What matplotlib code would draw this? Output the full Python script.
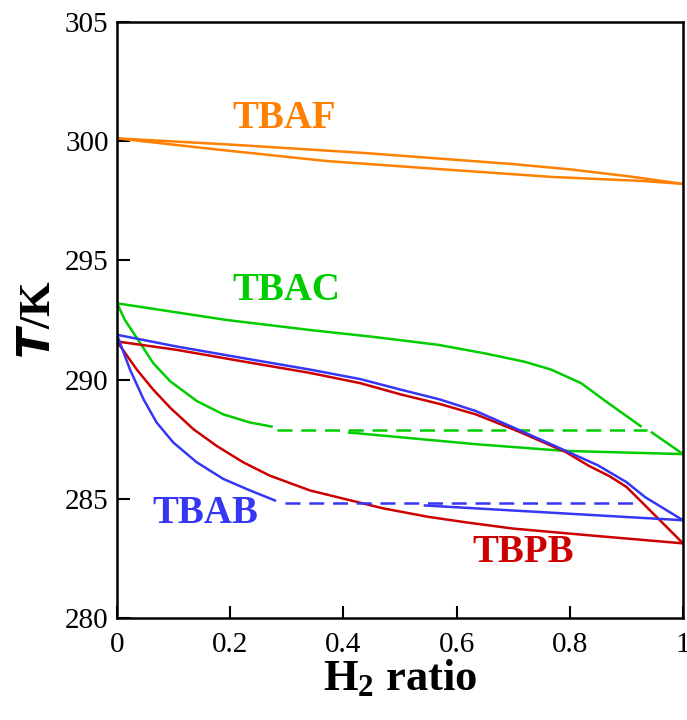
import matplotlib
matplotlib.use("Agg")
import matplotlib.pyplot as plt

# TBAF (orange)
tbaf_up_x = [0, 0.2, 0.435, 0.70, 0.80, 0.90, 1.0]
tbaf_up_t = [300.12, 299.86, 299.51, 299.04, 298.82, 298.54, 298.21]
tbaf_lo_x = [0, 0.17, 0.37, 0.57, 0.77, 0.93, 1.0]
tbaf_lo_t = [300.12, 299.67, 299.17, 298.83, 298.5, 298.33, 298.21]

# TBAC (green)
tbac_up_x = [0, 0.194, 0.341, 0.45, 0.567, 0.65, 0.72, 0.767, 0.82, 0.867, 0.925]
tbac_up_t = [293.2, 292.5, 292.08, 291.8, 291.46, 291.1, 290.75, 290.42, 289.85, 289.03, 288.05]
tbac_tail_x = [0.945, 1.0]
tbac_tail_t = [287.78, 286.875]
tbac_lo_x = [0, 0.014, 0.041, 0.064, 0.094, 0.141, 0.188, 0.235, 0.273]
tbac_lo_t = [293.2, 292.5, 291.53, 290.69, 289.93, 289.1, 288.54, 288.2, 288.03]
tbac_lr_x = [0.41, 0.634, 0.79, 1.0]
tbac_lr_t = [287.78, 287.29, 287.01, 286.875]
tbac_dash_x = [0.282, 0.936]
tbac_dash_t = [287.88, 287.88]

# TBAB (blue)
tbab_up_x = [0, 0.105, 0.223, 0.341, 0.43, 0.501, 0.57, 0.634, 0.707, 0.793, 0.85, 0.9, 0.933, 1.0]
tbab_up_t = [291.88, 291.39, 290.9, 290.42, 290.02, 289.58, 289.17, 288.68, 287.92, 287.01, 286.4, 285.7, 285.07, 284.1]
tbab_lo_x = [0, 0.023, 0.047, 0.070, 0.0995, 0.141, 0.188, 0.235, 0.279]
tbab_lo_t = [291.88, 290.42, 289.17, 288.2, 287.36, 286.53, 285.83, 285.35, 284.93]
tbab_lr_x = [0.544, 1.0]
tbab_lr_t = [284.72, 284.1]
tbab_dash_x = [0.297, 0.926]
tbab_dash_t = [284.83, 284.83]

# TBPB (red)
tbpb_up_x = [0, 0.105, 0.223, 0.341, 0.43, 0.501, 0.57, 0.634, 0.707, 0.793, 0.833, 0.87, 0.9, 0.933, 1.0]
tbpb_up_t = [291.6, 291.25, 290.76, 290.28, 289.85, 289.38, 288.98, 288.54, 287.85, 286.96, 286.39, 285.95, 285.5, 284.72, 283.13]
tbpb_lo_x = [0, 0.035, 0.064, 0.094, 0.135, 0.176, 0.223, 0.270, 0.341, 0.401, 0.47, 0.548, 0.62, 0.70, 0.833, 1.0]
tbpb_lo_t = [291.6, 290.42, 289.58, 288.82, 287.92, 287.22, 286.53, 285.97, 285.35, 285.0, 284.6, 284.25, 284.0, 283.75, 283.47, 283.13]

c_orange = "#FF8000"
c_green = "#00CC00"
c_blue = "#3636F5"
c_red = "#CC0000"

plt.rcParams["font.family"] = ["Liberation Serif", "DejaVu Serif"]
plt.rcParams["mathtext.fontset"] = "custom"
plt.rcParams["mathtext.rm"] = "Liberation Serif"
plt.rcParams["mathtext.it"] = "Liberation Serif:italic"
plt.rcParams["mathtext.bf"] = "Liberation Serif:bold"

fig = plt.figure(figsize=(6.87, 7.2), dpi=100)
ax = fig.add_axes([0.1703, 0.1417, 0.8239, 0.8277])

lw = 1.8
ax.plot(tbaf_up_x, tbaf_up_t, color=c_orange, lw=lw)
ax.plot(tbaf_lo_x, tbaf_lo_t, color=c_orange, lw=lw)

ax.plot(tbac_up_x, tbac_up_t, color=c_green, lw=lw)
ax.plot(tbac_tail_x, tbac_tail_t, color=c_green, lw=lw)
ax.plot(tbac_lo_x, tbac_lo_t, color=c_green, lw=lw)
ax.plot(tbac_lr_x, tbac_lr_t, color=c_green, lw=lw)
ax.plot(tbac_dash_x, tbac_dash_t, color=c_green, lw=lw, dashes=(6, 3.5))

ax.plot(tbpb_up_x, tbpb_up_t, color=c_red, lw=lw)
ax.plot(tbpb_lo_x, tbpb_lo_t, color=c_red, lw=lw)

ax.plot(tbab_up_x, tbab_up_t, color=c_blue, lw=lw)
ax.plot(tbab_lo_x, tbab_lo_t, color=c_blue, lw=lw)
ax.plot(tbab_lr_x, tbab_lr_t, color=c_blue, lw=lw)
ax.plot(tbab_dash_x, tbab_dash_t, color=c_blue, lw=lw, dashes=(6, 3.5))

lab_kw = dict(fontsize=28, fontweight="bold", va="center", ha="left")
ax.text(0.203, 300.95, "TBAF", color=c_orange, **lab_kw)
ax.text(0.203, 293.75, "TBAC", color=c_green, **lab_kw)
ax.text(0.062, 284.4, "TBAB", color=c_blue, **lab_kw)
ax.text(0.627, 282.75, "TBPB", color=c_red, **lab_kw)

ax.set_xlim(0, 1)
ax.set_ylim(280, 305)
ax.set_xticks([0, 0.2, 0.4, 0.6, 0.8, 1])
ax.set_xticklabels(["0", "0.2", "0.4", "0.6", "0.8", "1"])
ax.set_yticks([280, 285, 290, 295, 300, 305])
ax.tick_params(direction="in", length=9, width=1.5, labelsize=21,
               top=False, right=False)
ax.tick_params(axis="x", pad=10)
ax.tick_params(axis="y", pad=6)
for sp in ax.spines.values():
    sp.set_linewidth(1.8)

ax.set_xlabel(r"H$_\mathbf{2}$ ratio", fontsize=32, fontweight="bold", labelpad=0)
ax.set_ylabel(r"$\boldsymbol{T}$/K", fontsize=32, fontweight="bold", labelpad=4)

fig.savefig("out.png", dpi=100)
